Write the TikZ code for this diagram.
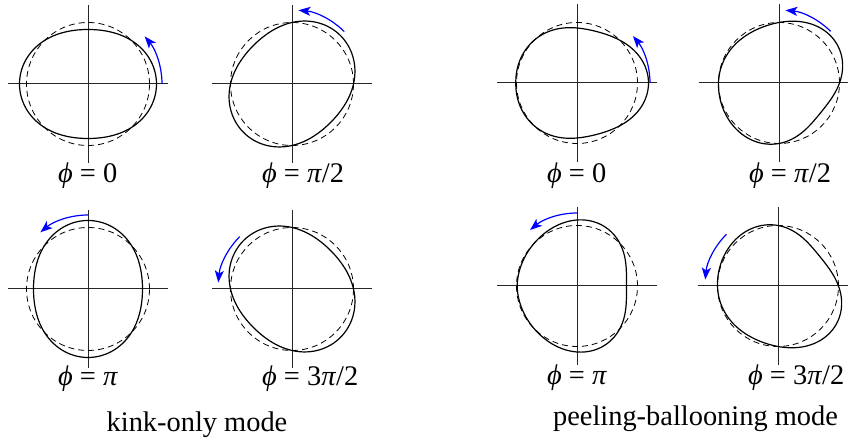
\documentclass[tikz,border=0pt]{standalone}
\usepackage{fontspec}
\setmainfont{Liberation Serif}
\usetikzlibrary{arrows.meta}

\begin{document}
\begin{tikzpicture}[
  x=0.5pt, y=0.5pt,
  axis/.style={draw=black!85, line width=0.5pt},
  unpert/.style={draw=black, line width=0.4pt, dash pattern=on 3pt off 2pt},
  pert/.style={draw=black, line width=0.6pt, line join=round},
  rot/.style={-{Stealth[length=6pt, width=4.5pt, inset=1.5pt]}, draw=blue, line width=0.6pt},
  phase/.style={anchor=base, inner sep=0pt, font=\fontsize{14.2}{17}\selectfont},
  title/.style={anchor=base, inner sep=0pt, font=\fontsize{14.2}{17}\selectfont}
]
\useasboundingbox (0,0) rectangle (848,442);

\foreach \nm/\cx/\cy/\ph/\ly/\val in {k1/88/358/0/259/{0}, k2/292/358/90/259/{\textit{π}/2},
    k3/88/153/180/56/{\textit{π}}, k4/292/153/270/56/{3\textit{π}/2}} {
  \coordinate (\nm) at (\cx,\cy);
  \draw[axis] (\cx-80,\cy) -- (\cx+80,\cy);
  \draw[axis] (\cx,\cy-79) -- (\cx,\cy+79);
  \draw[unpert] (\nm) circle[radius=61.5];
  \draw[pert] plot[domain=0:360, samples=181, variable=\t]
    ({\cx+(61.5+7*cos(2*\t-\ph))*cos(\t)}, {\cy+(61.5+7*cos(2*\t-\ph))*sin(\t)}) -- cycle;
  \draw[rot] ([shift={(\nm)}] {\ph/2}:74) arc[start angle=\ph/2, end angle=\ph/2+40, radius=74];
  \node[phase] (l\nm) at (\cx,\ly) {\makebox[0pt][r]{\textit{ϕ}\ }=\makebox[0pt][l]{\ \val}};
}

\foreach \nm/\cx/\cy/\ph/\ly/\val in {p1/577/359/0/259/{0}, p2/779/359/90/259/{\textit{π}/2},
    p3/577/156/180/57/{\textit{π}}, p4/778/156/270/57/{3\textit{π}/2}} {
  \coordinate (\nm) at (\cx,\cy);
  \draw[axis] (\cx-80,\cy) -- (\cx+80,\cy);
  \draw[axis] (\cx,\cy-79) -- (\cx,\cy+79);
  \draw[unpert] (\nm) circle[radius=60.5];
  \draw[pert] plot[domain=-180:180, samples=181, variable=\t]
    ({\cx+(60.5+11*exp(-(\t/108)*(\t/108))*cos(2*\t-\ph))*cos(\t)},
     {\cy+(60.5+11*exp(-(\t/108)*(\t/108))*cos(2*\t-\ph))*sin(\t)}) -- cycle;
  \draw[rot] ([shift={(\nm)}] {\ph/2}:73) arc[start angle=\ph/2, end angle=\ph/2+40, radius=73];
  \node[phase] (l\nm) at (\cx,\ly) {\makebox[0pt][r]{\textit{ϕ}\ }=\makebox[0pt][l]{\ \val}};
}

\node[title] (kinklbl) at (197,10) {kink-only mode};
\node[title] (pblbl) at (695.5,16) {peeling-ballooning mode};
\end{tikzpicture}
\end{document}
